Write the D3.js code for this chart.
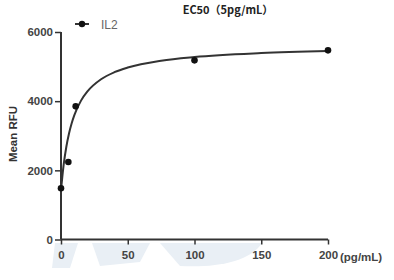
<!DOCTYPE html>
<html><head><meta charset="utf-8">
<script src="https://cdn.jsdelivr.net/npm/d3@7"></script>
<style>body{margin:0;background:#fff}svg{display:block}</style>
</head><body>
<svg id="c" width="394" height="280"></svg>
<script>
// data
const doseX = [0, 5.5, 11, 100, 200];
const meanRFU = [1480, 2240, 3850, 5180, 5470];
const fitX = [0, 2, 4, 6, 8, 10, 15, 20, 30, 40, 50, 75, 100, 150, 200];
const fitY = [1425, 2164, 2683, 3067, 3363, 3598, 4016, 4292, 4635, 4838, 4973, 5171, 5278, 5391, 5451];
const xTicks = [0, 50, 100, 150, 200];
const yTicks = [0, 2000, 4000, 6000];
const seriesName = "IL2";
const title = "EC50（5pg/mL）";

const svg = d3.select("#c");
const x = d3.scaleLinear().domain([0, 200]).range([61, 328]);
const y = d3.scaleLinear().domain([0, 6000]).range([239.5, 32]);
const axisColor = "#333";
const textColor = "#444";
const font = "Liberation Sans, Arial, sans-serif";

// faint background watermark
const wm = svg.append("g").attr("fill", "#e9eff5");
wm.append("path").attr("d", "M55,243 L78,243 L70,268 L52,268 Z");
wm.append("path").attr("d", "M92,243 L150,243 L140,262 L100,266 Z");
wm.append("path").attr("d", "M160,243 L262,243 C250,262 215,268 180,266 Z");

// x axis
const gx = svg.append("g").attr("transform", "translate(0,239.5)")
  .call(d3.axisBottom(x).tickValues(xTicks).tickSize(5).tickPadding(6).tickFormat(d3.format("d")));
// y axis
const gy = svg.append("g").attr("transform", "translate(61,0)")
  .call(d3.axisLeft(y).tickValues(yTicks).tickSize(6).tickPadding(2).tickFormat(d3.format("d")));
[gx, gy].forEach(g => {
  g.select(".domain").attr("stroke", axisColor).attr("stroke-width", 2);
  g.selectAll(".tick line").attr("stroke", axisColor).attr("stroke-width", 1.5);
  g.selectAll(".tick text").attr("fill", textColor).attr("font-family", font)
    .attr("font-size", 11.5).attr("font-weight", "bold");
});
gx.select(".domain").attr("d", `M${x(0)},0H${x(200)}`);
gy.select(".domain").attr("d", `M0,${y(0)}V${y(6000)}`);

// unit label
svg.append("text").attr("x", 340).attr("y", 261).attr("fill", textColor)
  .attr("font-family", font).attr("font-size", 11.5).attr("font-weight", "bold")
  .text("(pg/mL)");

// y label
svg.append("text").attr("transform", "translate(17,134) rotate(-90)").attr("text-anchor", "middle")
  .attr("fill", "#333").attr("font-family", font).attr("font-size", 11.5)
  .attr("font-weight", "bold").text("Mean RFU");

// title
svg.append("text").attr("x", 228).attr("y", 14).attr("text-anchor", "middle").attr("fill", "#222")
  .attr("font-family", "Noto Sans CJK SC, sans-serif").attr("font-size", 11).attr("font-weight", "bold")
  .text(title);

// fitted curve
const line = d3.line().x((d, i) => x(fitX[i])).y(d => y(d)).curve(d3.curveMonotoneX);
svg.append("path").attr("d", line(fitY)).attr("fill", "none").attr("stroke", "#333").attr("stroke-width", 2);

// points
svg.selectAll("circle.pt").data(meanRFU).enter().append("circle").attr("class", "pt")
  .attr("cx", (d, i) => x(doseX[i])).attr("cy", d => y(d)).attr("r", 3.3).attr("fill", "#111");

// legend
svg.append("line").attr("x1", 75).attr("x2", 89).attr("y1", 24).attr("y2", 24).attr("stroke", "#333").attr("stroke-width", 2);
svg.append("circle").attr("cx", 82).attr("cy", 24).attr("r", 3.2).attr("fill", "#111");
svg.append("text").attr("x", 101).attr("y", 28.5).attr("fill", "#666")
  .attr("font-family", font).attr("font-size", 12).text(seriesName);
</script>
</body></html>
